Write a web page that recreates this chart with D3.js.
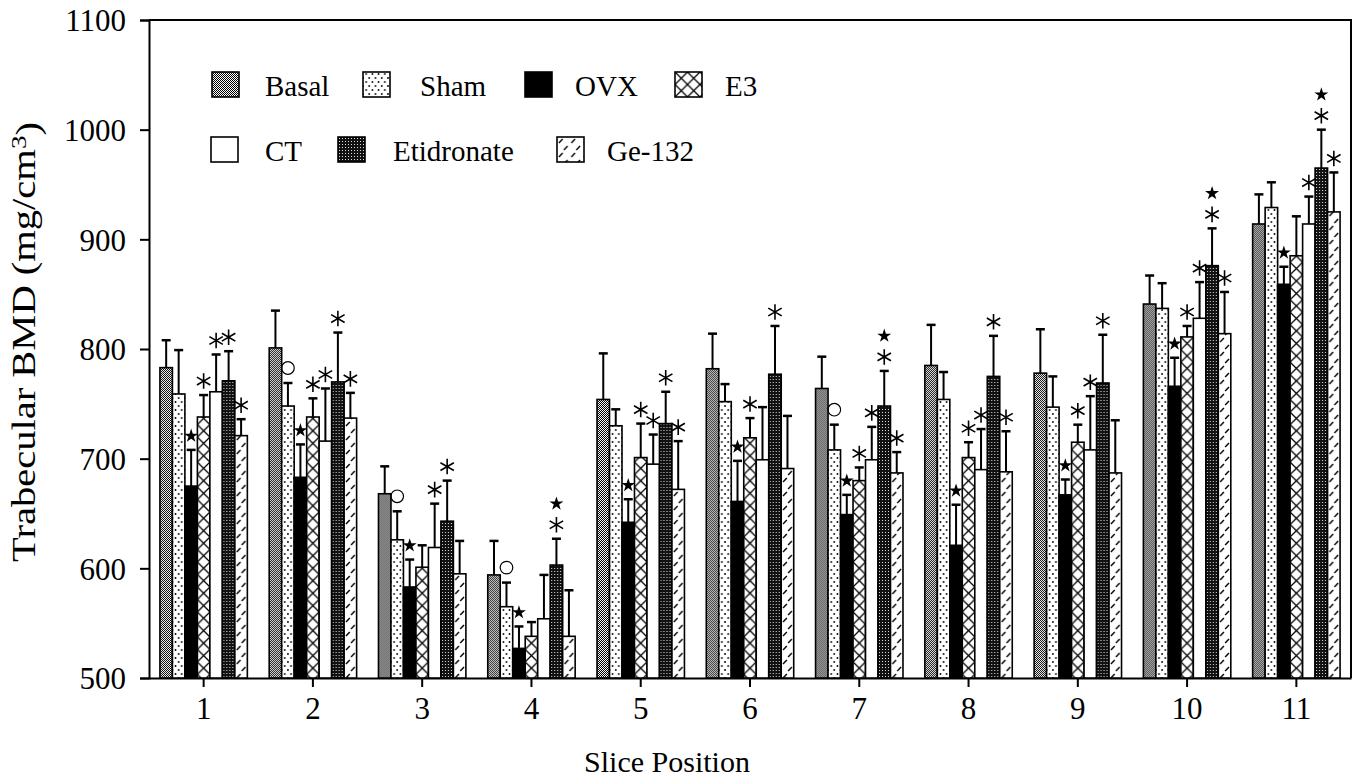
<!DOCTYPE html>
<html>
<head>
<meta charset="utf-8">
<script src="https://cdn.jsdelivr.net/npm/d3@7"></script>
<style>
  body { margin: 0; background: #fff; }
  svg { display: block; }
  text { font-family: "Liberation Serif", "Times New Roman", serif; fill: #000; }
</style>
</head>
<body>
<svg id="chart"></svg>
<script>
const slices = ['1', '2', '3', '4', '5', '6', '7', '8', '9', '10', '11'];
const groups = ['Basal', 'Sham', 'OVX', 'E3', 'CT', 'Etidronate', 'Ge-132'];

// mean values, mg/cm3
const basal = [783, 801, 668, 594, 754, 782, 764, 785, 778, 841, 914];
const sham  = [759, 748, 626, 565, 730, 752, 708, 754, 747, 837, 929];
const ovx   = [675, 683, 583, 527, 642, 661, 649, 621, 667, 766, 859];
const e3    = [738, 738, 601, 538, 701, 719, 680, 701, 715, 811, 885];
const ct    = [761, 716, 619, 554, 695, 699, 699, 690, 708, 828, 914];
const etid  = [771, 770, 643, 603, 732, 777, 748, 775, 769, 876, 965];
const ge132 = [721, 737, 595, 538, 672, 691, 687, 688, 687, 814, 925];

// SD (upper error bar)
const basalSD = [25, 34, 25, 31, 42, 32, 29, 37, 40, 26, 27];
const shamSD  = [40, 21, 26, 22, 15, 16, 23, 25, 28, 23, 23];
const ovxSD   = [33, 30, 25, 20, 21, 37, 18, 37, 14, 26, 16];
const e3SD    = [20, 17, 20, 13, 31, 18, 12, 14, 16, 10, 36];
const ctSD    = [34, 48, 40, 40, 27, 48, 30, 37, 49, 33, 25];
const etidSD  = [27, 45, 37, 24, 29, 44, 32, 37, 44, 34, 35];
const geSD    = [15, 23, 30, 42, 44, 48, 19, 37, 48, 38, 36];

// significance marks: * asterisk, s star, o circle
const basalSig = ['', '', '', '', '', '', '', '', '', '', ''];
const shamSig  = ['', 'o', 'o', 'o', '', '', 'o', '', '', '', ''];
const ovxSig   = ['s', 's', 's', 's', 's', 's', 's', 's', 's', 's', 's'];
const e3Sig    = ['*', '*', '', '', '*', '*', '*', '*', '*', '*', ''];
const ctSig    = ['*', '*', '*', '', '*', '', '*', '*', '*', '*', '*'];
const etidSig  = ['*', '*', '*', '*s', '*', '*', '*s', '*', '*', '*s', '*s'];
const geSig    = ['*', '*', '', '', '*', '', '*', '*', '', '*', '*'];

const yTicks = [500, 600, 700, 800, 900, 1000, 1100];

const means = [basal, sham, ovx, e3, ct, etid, ge132];
const sds = [basalSD, shamSD, ovxSD, e3SD, ctSD, etidSD, geSD];
const sigs = [basalSig, shamSig, ovxSig, e3Sig, ctSig, etidSig, geSig];

const width = 1361, height = 780;
const margin = { left: 149, right: 10, top: 20, bottom: 102 };
const plotRight = width - margin.right;
const plotBottom = height - margin.bottom;
const serif = '"Liberation Serif", "Times New Roman", serif';

const svg = d3.select('#chart').attr('width', width).attr('height', height);

const x0 = d3.scaleBand().domain(slices).range([margin.left, plotRight])
  .paddingInner(0.2).paddingOuter(0.1);
const x1 = d3.scaleBand().domain(groups).range([0, x0.bandwidth()]);
const y = d3.scaleLinear().domain([500, 1100]).range([plotBottom, margin.top]);

// patterns
const defs = svg.append('defs');
const bw = x1.bandwidth();

function pattern(id, w, h) {
  return defs.append('pattern').attr('id', id)
    .attr('patternUnits', 'userSpaceOnUse')
    .attr('width', w).attr('height', h);
}

let p = pattern('p-basal', 2, 2);
p.append('rect').attr('width', 2).attr('height', 2).attr('fill', '#fff');
p.append('rect').attr('width', 1).attr('height', 1).attr('fill', '#000');
p.append('rect').attr('x', 1).attr('y', 1).attr('width', 1).attr('height', 1).attr('fill', '#000');

p = pattern('p-sham', bw / 2, 8);
p.append('rect').attr('width', bw / 2).attr('height', 8).attr('fill', '#fff');
p.append('circle').attr('cx', bw / 4).attr('cy', 2).attr('r', 0.9).attr('fill', '#000');
p.append('circle').attr('cx', bw / 2).attr('cy', 6).attr('r', 0.9).attr('fill', '#000');
p.append('circle').attr('cx', 0).attr('cy', 6).attr('r', 0.9).attr('fill', '#000');

p = pattern('p-e3', bw, bw);
p.append('rect').attr('width', bw).attr('height', bw).attr('fill', '#fff');
p.append('path').attr('d', `M0,0L${bw},${bw}M${bw},0L0,${bw}`)
  .attr('stroke', '#000').attr('stroke-width', 1.3);

p = pattern('p-etid', 3, 3);
p.append('rect').attr('width', 3).attr('height', 3).attr('fill', '#111');
p.append('rect').attr('x', 1).attr('y', 1).attr('width', 1).attr('height', 1).attr('fill', '#ddd');

p = pattern('p-ge', bw, 14);
p.append('rect').attr('width', bw).attr('height', 14).attr('fill', '#fff');
p.append('path').attr('d', `M${bw * 0.15},6L${bw * 0.45},2M${bw * 0.55},13L${bw * 0.85},9`)
  .attr('stroke', '#000').attr('stroke-width', 1.4);

const fills = ['url(#p-basal)', 'url(#p-sham)', '#000', 'url(#p-e3)', '#fff', 'url(#p-etid)', 'url(#p-ge)'];

// axes
const yAxis = svg.append('g')
  .attr('transform', `translate(${margin.left},0)`)
  .call(d3.axisLeft(y).tickValues(yTicks).tickFormat(d3.format('d')).tickSize(9).tickPadding(14));

const xAxis = svg.append('g')
  .attr('transform', `translate(0,${plotBottom})`)
  .call(d3.axisBottom(x0).tickSize(9).tickPadding(10).tickSizeOuter(0));

svg.selectAll('.domain').attr('stroke', '#000').attr('stroke-width', 2);
svg.selectAll('.tick line').attr('stroke', '#000').attr('stroke-width', 2);
svg.selectAll('.tick text').style('font-size', '31px').style('font-family', serif);
yAxis.selectAll('.tick text').attr('dy', '0.35em');

// bars
const rows = [];
slices.forEach((s, i) => {
  groups.forEach((g, k) => {
    rows.push({ slice: s, group: g, k: k, mean: means[k][i], sd: sds[k][i], sig: sigs[k][i] });
  });
});

const bar = svg.append('g').selectAll('g')
  .data(rows)
  .enter()
  .append('g')
  .attr('transform', d => `translate(${x0(d.slice) + x1(d.group)},0)`);

bar.append('line')
  .attr('x1', bw / 2).attr('x2', bw / 2)
  .attr('y1', d => y(d.mean)).attr('y2', d => y(d.mean + d.sd))
  .attr('stroke', '#000').attr('stroke-width', 2);

bar.append('line')
  .attr('x1', bw / 2 - 4.5).attr('x2', bw / 2 + 4.5)
  .attr('y1', d => y(d.mean + d.sd)).attr('y2', d => y(d.mean + d.sd))
  .attr('stroke', '#000').attr('stroke-width', 2.5);

bar.append('rect')
  .attr('x', 0)
  .attr('y', d => y(d.mean))
  .attr('width', bw)
  .attr('height', d => y(500) - y(d.mean))
  .attr('fill', d => fills[d.k])
  .attr('stroke', '#000')
  .attr('stroke-width', 1.6);

// significance symbols
const asterisk = d3.symbol().type(d3.symbolAsterisk).size(170);
const star = d3.symbol().type(d3.symbolStar).size(60);
const ring = d3.symbol().type(d3.symbolCircle).size(125);

bar.each(function(d) {
  const g = d3.select(this);
  let top = y(d.mean + d.sd);
  d.sig.split('').forEach(c => {
    if (c === '*') {
      g.append('path').attr('d', asterisk())
        .attr('transform', `translate(${bw / 2},${top - 14})`)
        .attr('fill', 'none').attr('stroke', '#000').attr('stroke-width', 1.6);
    } else if (c === 's') {
      g.append('path').attr('d', star())
        .attr('transform', `translate(${bw / 2},${top - 14})`)
        .attr('fill', '#000');
    } else if (c === 'o') {
      g.append('path').attr('d', ring())
        .attr('transform', `translate(${bw / 2},${top - 15})`)
        .attr('fill', 'none').attr('stroke', '#000').attr('stroke-width', 1.2);
    }
    top -= 21;
  });
});

// frame
svg.append('path')
  .attr('d', `M${margin.left},${margin.top}H${plotRight}V${plotBottom}`)
  .attr('fill', 'none').attr('stroke', '#000').attr('stroke-width', 2);

// legend
const legendPos = [[212, 72], [363, 72], [525, 72], [675, 72], [211, 137], [338, 137], [557, 137]];
const legendTextDx = [53, 57, 50, 50, 54, 55, 50];
const legend = svg.append('g').selectAll('g')
  .data(groups)
  .enter()
  .append('g')
  .attr('transform', (d, i) => `translate(${legendPos[i][0]},${legendPos[i][1]})`);

legend.append('rect')
  .attr('width', 27).attr('height', 25)
  .attr('fill', (d, i) => fills[i])
  .attr('stroke', '#000').attr('stroke-width', 1.6);

legend.append('text')
  .attr('x', (d, i) => legendTextDx[i])
  .attr('y', 24)
  .style('font-family', serif)
  .style('font-size', '29px')
  .text(d => d);

// axis titles
svg.append('text')
  .attr('x', 667)
  .attr('y', 772)
  .attr('text-anchor', 'middle')
  .style('font-family', serif)
  .style('font-size', '30px')
  .text('Slice Position');

const yt = svg.append('text')
  .attr('text-anchor', 'middle')
  .style('font-family', serif)
  .style('font-size', '33px');
yt.append('tspan').text('Trabecular BMD (mg/cm');
yt.append('tspan').attr('dy', '-0.4em').style('font-size', '22px').text('3');
yt.append('tspan').attr('dy', '0.4em').text(')');
const ytw = yt.node().getBBox().width;
yt.attr('transform', `translate(35,342) rotate(-90) scale(${440 / ytw},1)`);
</script>
</body>
</html>
